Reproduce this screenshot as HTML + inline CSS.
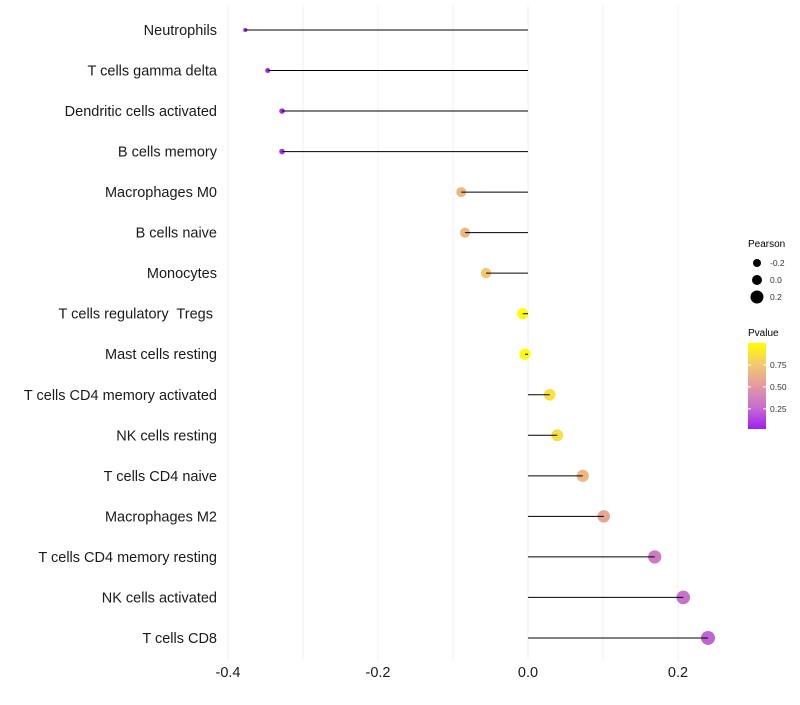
<!DOCTYPE html>
<html><head><meta charset="utf-8"><style>
body{margin:0;background:#fff;font-family:"Liberation Sans",sans-serif}
</style></head><body>
<svg id="chart" width="800" height="700" xmlns="http://www.w3.org/2000/svg"></svg>
<script>
const categories=["Neutrophils","T cells gamma delta","Dendritic cells activated","B cells memory","Macrophages M0","B cells naive","Monocytes","T cells regulatory  Tregs ","Mast cells resting","T cells CD4 memory activated","NK cells resting","T cells CD4 naive","Macrophages M2","T cells CD4 memory resting","NK cells activated","T cells CD8"];
const pearson=[-0.377,-0.347,-0.328,-0.328,-0.089,-0.084,-0.056,-0.007,-0.004,0.029,0.039,0.073,0.101,0.169,0.207,0.240];
const pvalue=[0.02,0.03,0.05,0.05,0.65,0.66,0.75,0.99,0.99,0.86,0.85,0.66,0.56,0.33,0.28,0.22];
const xTicks=[-0.4,-0.2,0.0,0.2];
const sizeTicks=[-0.2,0.0,0.2];
const pTicks=[0.25,0.5,0.75];
const NS="http://www.w3.org/2000/svg";
const svg=document.getElementById('chart');
function mk(t,a,p){const e=document.createElementNS(NS,t);for(const k in a)e.setAttribute(k,a[k]);(p||svg).appendChild(e);return e;}
const x=v=>528+v*750;
const y=i=>30+i*40.53;
const r=v=>Math.sqrt(Math.max(2,4+45*(v+0.38)/0.62));
function lerp(a,b,t){return Math.round(a+(b-a)*t);}
const stops=[[0,[160,32,240]],[0.25,[198,108,208]],[0.5,[227,154,160]],[0.75,[242,200,112]],[1,[255,255,0]]];
function col(p){for(let i=1;i<stops.length;i++){if(p<=stops[i][0]){const [a,ca]=stops[i-1],[b,cb]=stops[i];const t=(p-a)/(b-a);return `rgb(${lerp(ca[0],cb[0],t)},${lerp(ca[1],cb[1],t)},${lerp(ca[2],cb[2],t)})`;}}return 'rgb(255,255,0)';}
for(let k=-4;k<=2;k++){const v=k/10;const g=mk('line',{x1:x(v),x2:x(v),y1:5,y2:660,stroke:'#f0f0f0','stroke-width':1});

}
categories.forEach((c,i)=>{
const t=mk('text',{x:217,y:y(i)+5,'text-anchor':'end','font-size':14.5,fill:'#1a1a1a','xml:space':'preserve'});t.style.whiteSpace='pre';t.textContent=c;


const pt=mk('circle',{cx:x(pearson[i]),cy:y(i),r:r(pearson[i]),fill:col(pvalue[i])});


const ln=mk('line',{x1:x(0),x2:x(pearson[i]),y1:y(i),y2:y(i),stroke:'#000','stroke-width':1});


});
xTicks.forEach(v=>{const t=mk('text',{x:x(v),y:677,'text-anchor':'middle','font-size':14.5,fill:'#1a1a1a'});t.textContent=v.toFixed(1);

});
const lt=mk('text',{x:748,y:247,'font-size':10,fill:'#000'});lt.textContent='Pearson';


sizeTicks.forEach((v,i)=>{const c=mk('circle',{cx:757,cy:263+i*17,r:[4,5,6.5][i],fill:'#000'});


const t=mk('text',{x:770,y:266+i*17,'font-size':8.5,fill:'#333'});t.textContent=v.toFixed(1);

});
const pt=mk('text',{x:748,y:336,'font-size':10,fill:'#000'});pt.textContent='Pvalue';


const defs=mk('defs',{});const gr=mk('linearGradient',{id:'g',x1:0,y1:1,x2:0,y2:0},defs);
stops.forEach(s=>mk('stop',{offset:s[0],'stop-color':`rgb(${s[1].join(',')})`},gr));
const bar=mk('rect',{x:748,y:343,width:18,height:86,fill:'url(#g)'});


const py=p=>429-(p-0.02)/0.98*86;
pTicks.forEach(p=>{mk('line',{x1:748,x2:751,y1:py(p),y2:py(p),stroke:'#fff'});mk('line',{x1:763,x2:766,y1:py(p),y2:py(p),stroke:'#fff'});
const t=mk('text',{x:770,y:py(p)+3,'font-size':8.5,fill:'#333'});t.textContent=p.toFixed(2);

});
</script>
</body></html>
